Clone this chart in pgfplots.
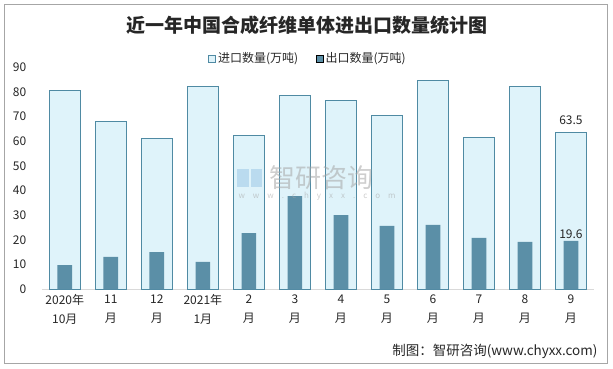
\documentclass[border=0pt]{standalone}
\usepackage{fontspec}
\setmainfont{Noto Sans CJK SC}
\usepackage{pgfplots}
\pgfplotsset{compat=1.18}
\definecolor{impfill}{HTML}{DFF3FA}
\definecolor{impdraw}{HTML}{4F8AA3}
\definecolor{expfill}{HTML}{5B8FA7}
\definecolor{axgray}{HTML}{D9D9D9}
\definecolor{txt}{HTML}{262626}
\definecolor{wm}{HTML}{A6A6A6}
\definecolor{wmblue}{HTML}{9CC8E6}
\begin{document}
\begin{tikzpicture}[x=1pt,y=1pt]
\path[use as bounding box] (0pt,0pt) rectangle (613pt,368pt);
\draw[gray!70, line width=1pt] (4.5pt,4.5pt) rectangle (607.5pt,363.5pt);
\node[font=\fontsize{19}{22}\selectfont\bfseries, text=txt] at (307pt,343pt) {近一年中国合成纤维单体进出口数量统计图};
\node[font=\fontsize{13.5}{16}\selectfont, text=txt, anchor=east] at (601pt,17pt) {制图：智研咨询(www.chyxx.com)};
\begin{axis}[
  at={(41.8pt,78.7pt)}, anchor=south west,
  scale only axis, width=552.2pt, height=222pt,
  xmin=-0.5, xmax=11.5, ymin=0, ymax=90,
  ytick={0,10,...,90},
  xtick={0,...,11},
  xticklabels={{2020年\\10月},{11\\月},{12\\月},{2021年\\1月},{2\\月},{3\\月},{4\\月},{5\\月},{6\\月},{7\\月},{8\\月},{9\\月}},
  xticklabel style={align=center, font=\fontsize{12}{19}\selectfont, text=txt, yshift=-2pt},
  yticklabel style={font=\fontsize{12}{14}\selectfont, text=txt, xshift=-12pt},
  /pgf/number format/assume math mode=true,
  major tick length=0pt,
  axis x line*=bottom, axis y line*=left,
  x axis line style={draw=axgray, line width=1pt, -},
  y axis line style={draw=none},
  legend columns=2,
  legend style={draw=none, fill=none, at={(0.482,1.04)}, anchor=center, font=\fontsize{12}{14}\selectfont, text=txt,
    /tikz/every even column/.append style={column sep=16pt}},
  legend image code/.code={\draw[#1] (0pt,-3.5pt) rectangle (7pt,3.5pt);},
  clip=false,
]
\addplot[ybar, bar width=31pt, bar shift=0pt, fill=impfill, draw=impdraw, line width=0.8pt] coordinates {
(0,80.7) (1,68.1) (2,61.0) (3,82.3) (4,62.3) (5,78.6) (6,76.6) (7,70.5) (8,84.7) (9,61.6) (10,82.3) (11,63.5)};
\addlegendentry{进口数量(万吨)}
\addplot[ybar, bar width=14.7pt, bar shift=0pt, fill=expfill, draw=none] coordinates {
(0,9.8) (1,13.1) (2,15.1) (3,11.1) (4,22.8) (5,37.8) (6,30.1) (7,25.7) (8,26.1) (9,20.8) (10,19.2) (11,19.6)};
\addlegendentry{出口数量(万吨)}
\addplot[draw=none, mark=none, nodes near coords, point meta=explicit symbolic,
  every node near coord/.append style={font=\fontsize{12}{14}\selectfont, text=txt, anchor=south, yshift=4pt}] coordinates {(11,63.5) [63.5]};
\addplot[draw=none, mark=none, nodes near coords, point meta=explicit symbolic,
  every node near coord/.append style={font=\fontsize{12}{14}\selectfont, text=txt, anchor=south, yshift=-1pt}] coordinates {(11,19.6) [19.6]};
\end{axis}
\fill[wmblue, opacity=0.55] (237pt,181pt) rectangle (249pt,199pt);
\fill[wmblue, opacity=0.55] (251pt,181pt) rectangle (262pt,199pt);
\node[font=\fontsize{26}{28}\selectfont, text=wm, opacity=0.55, anchor=west] at (266pt,190pt) {智研咨询};
\node[font=\fontsize{8}{10}\selectfont, text=wm, opacity=0.55, anchor=west] at (235pt,172pt) {w\quad w\quad w\quad .\quad c\quad h\quad y\quad x\quad x\quad .\quad c\quad o\quad m};
\end{tikzpicture}
\end{document}
